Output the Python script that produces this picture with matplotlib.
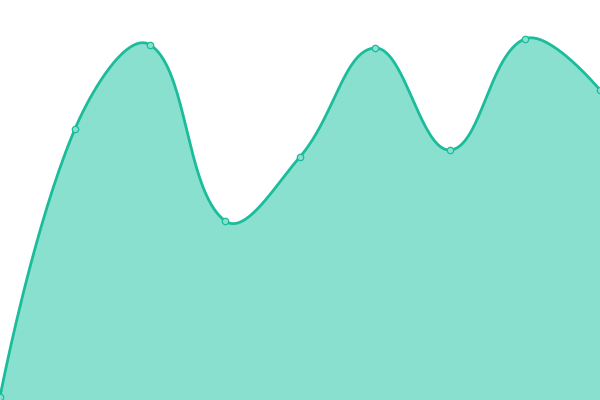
import matplotlib
matplotlib.use("Agg")
import matplotlib.pyplot as plt
import numpy as np

# data (x index, value on a 0-100 scale)
x_vals = [0, 1, 2, 3, 4, 5, 6, 7, 8]
y_vals = [0.8, 67.8, 88.8, 44.8, 60.8, 88.0, 62.5, 90.3, 77.5]

LINE = "#1abc9c"
FILL = "#8ae0cf"
SMOOTH = 0.4


def smooth_curve(xs, ys, sx, sy, smooth=SMOOTH, steps=40):
    # bezier smoothing with neighbour-based control points, computed in pixel space
    px = np.asarray(xs, float) * sx
    py = np.asarray(ys, float) * sy
    n = len(px)
    cps = []
    for i in range(n):
        if i == 0 or i == n - 1:
            cps.append(((px[i], py[i]), (px[i], py[i])))
            continue
        vx = px[i + 1] - px[i - 1]
        vy = py[i + 1] - py[i - 1]
        l0 = np.hypot(px[i] - px[i - 1], py[i] - py[i - 1])
        l1 = np.hypot(px[i + 1] - px[i], py[i + 1] - py[i])
        r = l1 / (l0 + l1)
        before = (px[i] - vx * smooth * (1 - r), py[i] - vy * smooth * (1 - r))
        after = (px[i] + vx * smooth * r, py[i] + vy * smooth * r)
        cps.append((before, after))
    t = np.linspace(0, 1, steps)
    out_x, out_y = [], []
    for i in range(n - 1):
        p0 = np.array([px[i], py[i]])
        p1 = np.array(cps[i][1])
        p2 = np.array(cps[i + 1][0])
        p3 = np.array([px[i + 1], py[i + 1]])
        seg = ((1 - t) ** 3)[:, None] * p0 + (3 * (1 - t) ** 2 * t)[:, None] * p1 \
            + (3 * (1 - t) * t ** 2)[:, None] * p2 + (t ** 3)[:, None] * p3
        out_x.extend(seg[:, 0])
        out_y.extend(seg[:, 1])
    return np.array(out_x) / sx, np.array(out_y) / sy


fig = plt.figure(figsize=(6, 4), dpi=100)
ax = fig.add_axes([0, 0, 1, 1])
ax.set_xlim(0, 8)
ax.set_ylim(0, 100)
ax.axis("off")

cx, cy = smooth_curve(x_vals, y_vals, 75, 4)
ax.fill_between(cx, 0, cy, color=FILL, linewidth=0, zorder=1)
ax.plot(cx, cy, color=LINE, linewidth=2.0, zorder=2, solid_capstyle="round")
ax.plot(x_vals, y_vals, linestyle="none", marker="o", markersize=4.6,
        markerfacecolor=FILL, markeredgecolor=LINE, markeredgewidth=0.9,
        zorder=3, clip_on=False)

fig.savefig("out.png", dpi=100)
